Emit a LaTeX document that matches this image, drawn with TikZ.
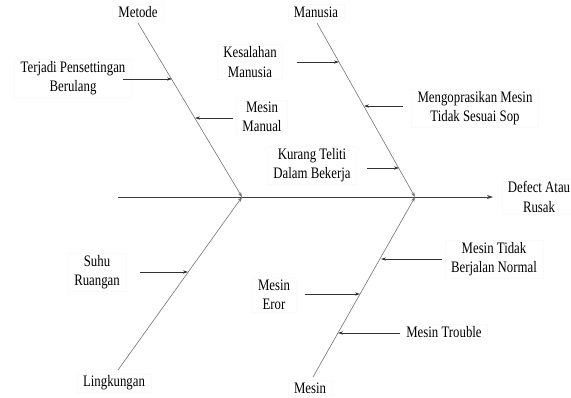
\documentclass[tikz,border=0pt]{standalone}
\usepackage{fontspec}
\setmainfont[FakeStretch=0.8]{Liberation Serif}
\usetikzlibrary{arrows.meta}
\begin{document}
\begin{tikzpicture}[x=1pt,y=-1pt,
  lbl/.style={align=center,font=\fontsize{16}{19.5}\selectfont,inner xsep=6pt,inner ysep=2pt,draw=black!2},
  bone/.style={draw=black!55,line width=0.6pt,-{Stealth[length=5pt,width=3.5pt]}},
  cause/.style={draw=black!80,line width=0.5pt,-{Stealth[length=5pt,width=3.2pt]}},
  spine/.style={draw=black!75,line width=0.7pt,-{Stealth[length=6pt,width=4pt]}}]
\useasboundingbox (0,0) rectangle (571,397);
% labels
\node[lbl] (metode) at (138,12) {Metode};
\node[lbl] (manusia) at (316,12) {Manusia};
\node[lbl] (lingk) at (114,383) {Lingkungan};
\node[lbl] (mesin) at (310,388) {Mesin};
\node[lbl] (defect) at (539,197) {Defect Atau\\Rusak};
\node[lbl] (terjadi) at (73,78) {Terjadi Pensettingan\\Berulang};
\node[lbl] (manual) at (262,117) {Mesin\\Manual};
\node[lbl] (kesalahan) at (250,62) {Kesalahan\\Manusia};
\node[lbl] (mengop) at (475,108) {Mengoprasikan Mesin\\Tidak Sesuai Sop};
\node[lbl] (kurang) at (312,165) {Kurang Teliti\\Dalam Bekerja};
\node[lbl] (suhu) at (97,272) {Suhu\\Ruangan};
\node[lbl] (tidak) at (494,259) {Mesin Tidak\\Berjalan Normal};
\node[lbl] (eror) at (274,295) {Mesin\\Eror};
\node[lbl] (trouble) at (444,332) {Mesin Trouble};
% spine
\coordinate (s0) at (118,197);
\coordinate (head) at (493,197);
\coordinate (j1) at (242,197);
\coordinate (j2) at (415,197);
\draw[spine] (s0) -- (head);
% bones
\coordinate (mt) at (138,23);
\coordinate (mn) at (317,23);
\coordinate (lk) at (118,370);
\coordinate (ms) at (313,377);
\draw[bone] (mt) -- (j1);
\draw[bone] (mn) -- (j2);
\draw[bone] (lk) -- (j1);
\draw[bone] (ms) -- (j2);
% cause arrows
\coordinate (a1s) at (123,79); \coordinate (a1e) at (172,79);
\coordinate (a2s) at (233,118); \coordinate (a2e) at (195,118);
\coordinate (a3s) at (297,62); \coordinate (a3e) at (339,62);
\coordinate (a4s) at (403,106); \coordinate (a4e) at (364,106);
\coordinate (a5s) at (367,168); \coordinate (a5e) at (399,168);
\coordinate (a6s) at (140,272); \coordinate (a6e) at (188,272);
\coordinate (a7s) at (442,259); \coordinate (a7e) at (381,259);
\coordinate (a8s) at (305,294); \coordinate (a8e) at (360,294);
\coordinate (a9s) at (400,333); \coordinate (a9e) at (338,333);
\draw[cause] (a1s) -- (a1e);
\draw[cause] (a2s) -- (a2e);
\draw[cause] (a3s) -- (a3e);
\draw[cause] (a4s) -- (a4e);
\draw[cause] (a5s) -- (a5e);
\draw[cause] (a6s) -- (a6e);
\draw[cause] (a7s) -- (a7e);
\draw[cause] (a8s) -- (a8e);
\draw[cause] (a9s) -- (a9e);
\end{tikzpicture}
\end{document}
